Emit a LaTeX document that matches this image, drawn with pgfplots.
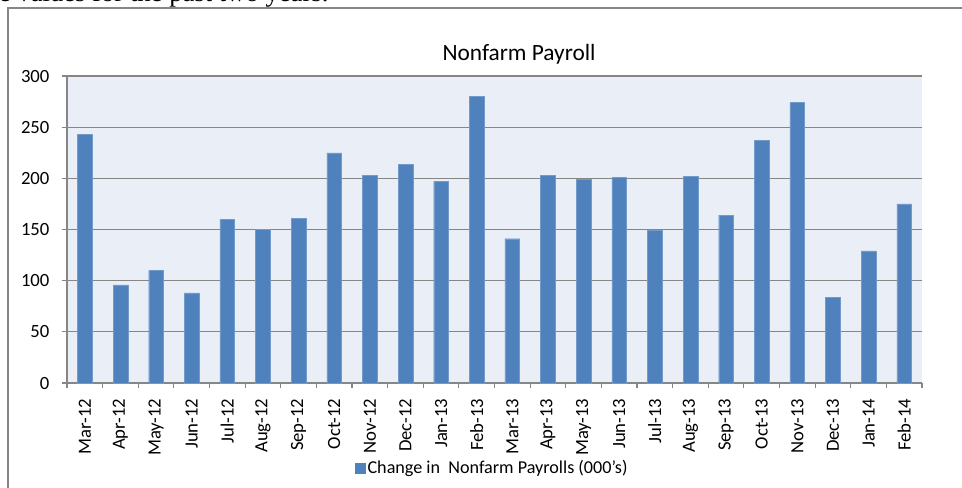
\documentclass[border=0pt]{standalone}
\usepackage{fontspec}
\setmainfont{Carlito}
\newfontfamily\docserif{Liberation Serif}
\usepackage{pgfplots}
\pgfplotsset{compat=1.18}
\definecolor{barblue}{HTML}{4F81BD}
\definecolor{plotbg}{HTML}{EAEFF7}
\definecolor{gridgray}{HTML}{868686}
\begin{document}
\begin{tikzpicture}
% page: 962x487 px, 1px = 0.75pt
\useasboundingbox (0,0) rectangle (721.5pt,365.25pt);
% clipped text line from the surrounding document
\node[anchor=base west, inner sep=0pt, font=\docserif\fontsize{20}{24}\selectfont]
  at (-1pt,364pt) {e values for the past two years.};
% chart frame (cut by the page on the right and bottom)
\draw[gridgray, line width=1pt] (6pt,-5pt) -- (6pt,359.25pt) -- (730pt,359.25pt);
\node[font=\fontsize{17.5}{21}\selectfont] at (389.25pt,324.75pt) {Nonfarm Payroll};
\begin{axis}[
  at={(50.25pt,78pt)}, anchor=south west,
  width=641.25pt, height=230.25pt, scale only axis,
  ybar, bar width=11pt,
  xmin=-0.5, xmax=23.5, ymin=0, ymax=300,
  axis x line*=bottom, axis y line*=left,
  axis line style={gridgray, line width=0.9pt, -},
  axis background/.style={fill=plotbg},
  ytick={0,50,...,300},
  ymajorgrids=true, major grid style={gridgray, line width=0.9pt},
  xtick={0,...,23},
  xticklabels={Mar-12,Apr-12,May-12,Jun-12,Jul-12,Aug-12,Sep-12,Oct-12,Nov-12,Dec-12,Jan-13,Feb-13,Mar-13,Apr-13,May-13,Jun-13,Jul-13,Aug-13,Sep-13,Oct-13,Nov-13,Dec-13,Jan-14,Feb-14},
  x tick label style={rotate=90, anchor=east, font=\fontsize{14}{16}\selectfont, inner sep=1pt},
  xticklabel shift=6.5pt,
  y tick label style={font=\fontsize{14}{16}\selectfont, inner sep=0pt, xshift=-9pt},
  /pgf/number format/assume math mode=true,
  x tick style={draw=none},
  y tick style={gridgray, line width=0.9pt},
  tick align=outside, major tick length=4pt,
  extra x ticks={-0.5,0.5,...,23.5},
  extra x tick labels={},
  extra x tick style={x tick style={draw=gridgray, line width=0.9pt}, major tick length=4pt, grid=none},
  legend style={at={(0.4975,-0.277)}, anchor=center, draw=none, fill=none,
    font=\fontsize{13.6}{16}\selectfont, inner sep=0pt},
  legend image code/.code={\fill[barblue] (0pt,-3.75pt) rectangle (7.5pt,3.75pt);},
]
\addplot[fill=barblue, draw=barblue!80!white, line width=0.3pt] coordinates {
  (0,243) (1,96) (2,110) (3,88) (4,160) (5,150) (6,161) (7,225)
  (8,203) (9,214) (10,197) (11,280) (12,141) (13,203) (14,199) (15,201)
  (16,149) (17,202) (18,164) (19,237) (20,274) (21,84) (22,129) (23,175)
};
\addlegendentry{Change in\ \ Nonfarm Payrolls (000's)}
\end{axis}
\end{tikzpicture}
\end{document}
